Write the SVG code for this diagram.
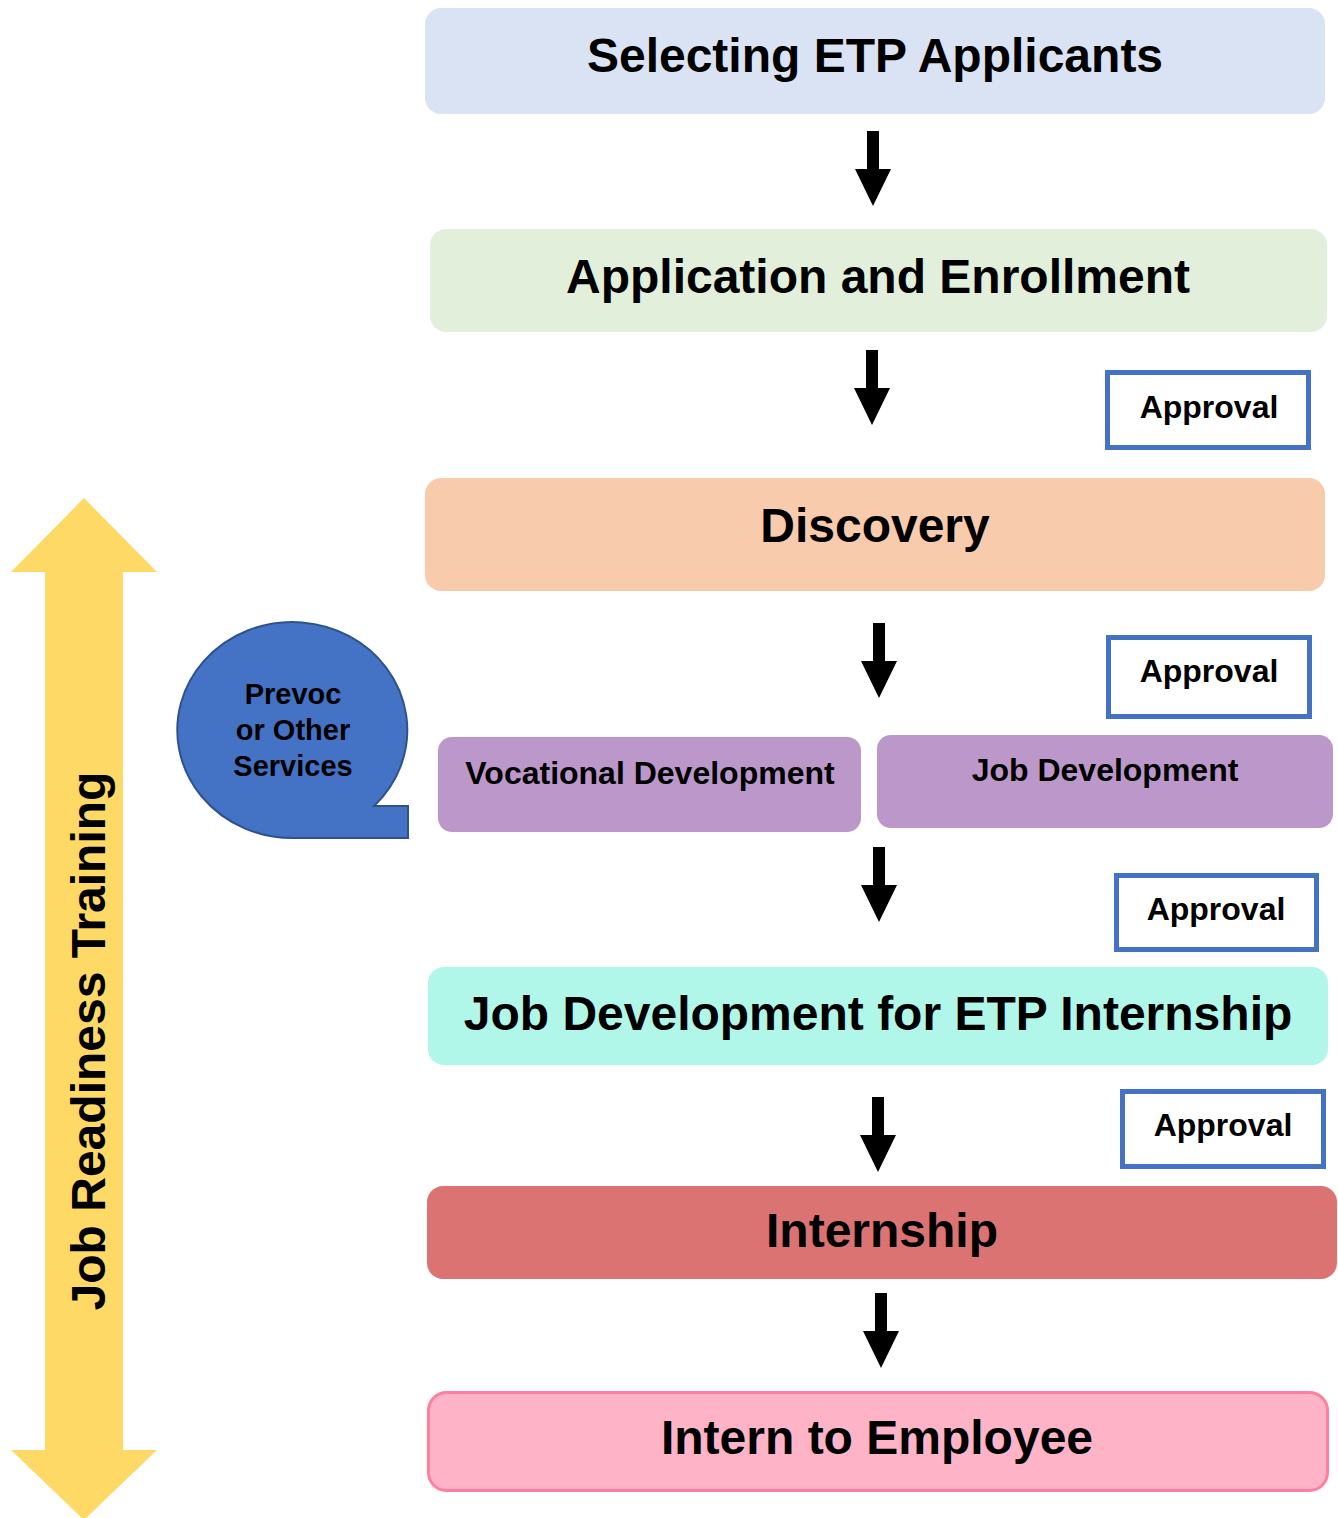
<svg xmlns="http://www.w3.org/2000/svg" width="1338" height="1518" viewBox="0 0 1338 1518">
<defs>
<style>
text{font-family:"Liberation Sans",Arial,sans-serif;font-weight:bold;fill:#000;text-anchor:middle}
.big{font-size:48px}
.mid{font-size:32px}
.sm{font-size:29px}
.appr rect{fill:#fff;stroke:#4472c4;stroke-width:5}
.conn path{fill:#000}
</style>
</defs>
<rect width="1338" height="1518" fill="#fff"/>
<g id="job-readiness">
<polygon points="84,498 157,572 123,572 123,1450 157,1450 84,1520 11,1450 45,1450 45,572 11,572" fill="#ffd966"/>
<text class="big" transform="translate(105,1041) rotate(-90)">Job Readiness Training</text>
</g>
<g id="prevoc">
<path d="M293 838 A115 108 0 1 1 374 806 L408 806 L408 838 Z" fill="#4472c4" stroke="#2f528f" stroke-width="2"/>
<text class="sm" x="293" y="704">Prevoc</text>
<text class="sm" x="293" y="740">or Other</text>
<text class="sm" x="293" y="776">Services</text>
</g>
<g id="selecting">
<rect x="425" y="8" width="900" height="106" rx="16" fill="#dae3f3"/>
<text class="big" x="875" y="72">Selecting ETP Applicants</text>
</g>
<g id="application">
<rect x="430" y="229" width="897" height="103" rx="16" fill="#e2efda"/>
<text class="big" x="878" y="293">Application and Enrollment</text>
</g>
<g id="approval1" class="appr">
<rect x="1107.5" y="372.5" width="201" height="75"/>
<text class="mid" x="1209" y="418">Approval</text>
</g>
<g id="discovery">
<rect x="425" y="478" width="900" height="113" rx="16" fill="#f8cbad"/>
<text class="big" x="875" y="542">Discovery</text>
</g>
<g id="approval2" class="appr">
<rect x="1108.5" y="637.5" width="201" height="79"/>
<text class="mid" x="1209" y="682">Approval</text>
</g>
<g id="vocational">
<rect x="438" y="737" width="423" height="95" rx="14" fill="#bc97c9"/>
<text class="mid" x="650" y="784">Vocational Development</text>
</g>
<g id="jobdev">
<rect x="877" y="735" width="456" height="93" rx="14" fill="#bc97c9"/>
<text class="mid" x="1105" y="781">Job Development</text>
</g>
<g id="approval3" class="appr">
<rect x="1116.5" y="875.5" width="200" height="74"/>
<text class="mid" x="1216" y="920">Approval</text>
</g>
<g id="jobdev-etp">
<rect x="428" y="967" width="900" height="98" rx="16" fill="#b1f7e9"/>
<text class="big" x="878" y="1030">Job Development for ETP Internship</text>
</g>
<g id="approval4" class="appr">
<rect x="1122.5" y="1091.5" width="201" height="75"/>
<text class="mid" x="1223" y="1136">Approval</text>
</g>
<g id="internship">
<rect x="427" y="1186" width="910" height="93" rx="16" fill="#db7372"/>
<text class="big" x="882" y="1247">Internship</text>
</g>
<g id="intern-employee">
<rect x="428.5" y="1392.5" width="899" height="98" rx="18" fill="#ffb3c6" stroke="#ff7f9f" stroke-width="3"/>
<text class="big" x="877" y="1454">Intern to Employee</text>
</g>
<g id="connectors" class="conn">
<path d="M867 131 H879 V169 H891 L873 206 L855 169 H867 Z"/>
<path d="M866 350 H878 V388 H890 L872 425 L854 388 H866 Z"/>
<path d="M873 623 H885 V661 H897 L879 698 L861 661 H873 Z"/>
<path d="M873 847 H885 V885 H897 L879 922 L861 885 H873 Z"/>
<path d="M872 1097 H884 V1135 H896 L878 1172 L860 1135 H872 Z"/>
<path d="M875 1293 H887 V1331 H899 L881 1368 L863 1331 H875 Z"/>
</g>
</svg>
